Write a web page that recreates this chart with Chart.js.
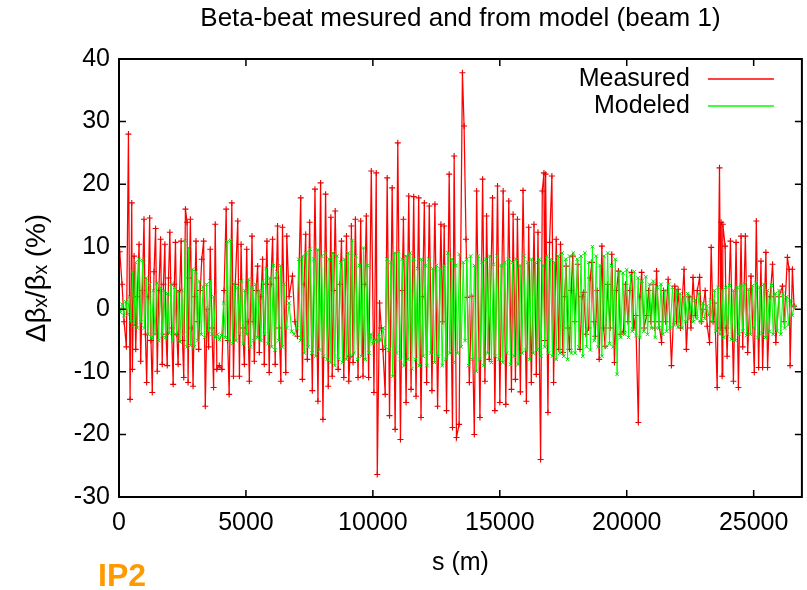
<!DOCTYPE html>
<html>
<head>
<meta charset="utf-8">
<script src="https://cdn.jsdelivr.net/npm/chart.js@4.4.1/dist/chart.umd.min.js"></script>
<style>
html,body{margin:0;padding:0;background:#fff;}
#wrap{position:relative;width:807px;height:590px;}
#ip2{position:absolute;left:98px;top:559px;font-family:"Liberation Sans",Arial,sans-serif;font-weight:bold;font-size:32px;color:#ff9900;line-height:1;}
</style>
</head>
<body>
<div id="wrap">
<canvas id="c" width="807" height="590"></canvas>
<div id="ip2">IP2</div>
</div>
<script>
const chartTitle = 'Beta-beat mesured and from model (beam 1)';
const xAxisTitle = 's (m)';
const yAxisTitle = 'Δβₓ/βₓ (%)';
const seriesNames = ['Measured', 'Modeled'];
const xTickValues = [0, 5000, 10000, 15000, 20000, 25000];
const yTickValues = [-30, -20, -10, 0, 10, 20, 30, 40];

const measuredS = [
30,120,200,290,372,437,502,528,594,659,
720,790,855,920,985,1040,1090,1150,1207,1260,
1311,1380,1442,1507,1570,1638,1703,1750,1807,1850,
1899,1950,2003,2070,2134,2180,2225,2280,2329,2390,
2447,2500,2551,2617,2682,2721,2770,2812,2870,2917,
2980,3034,3090,3138,3200,3260,3334,3399,3470,3530,
3595,3660,3726,3791,3856,3950,4052,4140,4222,4280,
4339,4444,4509,4580,4678,4744,4809,4870,4939,5031,
5080,5135,5239,5290,5331,5400,5461,5527,5590,5657,
5723,5780,5827,5918,5980,6049,6153,6200,6245,6310,
6375,6440,6571,6610,6700,6832,6930,7028,7158,7223,
7290,7354,7419,7510,7615,7719,7837,7941,8033,8137,
8242,8346,8398,8460,8516,8633,8700,8764,8855,8960,
9051,9100,9154,9220,9311,9416,9520,9612,9680,9742,
9833,9938,10042,10133,10173,10264,10330,10395,10486,10564,
10656,10760,10878,10982,11087,11150,11204,11309,11413,11504,
11609,11700,11805,11896,11960,12027,12118,12223,12327,12444,
12549,12680,12750,12810,12901,13006,13136,13202,13293,13397,
13528,13593,13670,13722,13800,13892,13996,14088,14218,14323,
14414,14479,14584,14714,14806,14910,15002,15132,15237,15354,
15459,15524,15616,15694,15811,15916,16047,16138,16243,16347,
16439,16504,16608,16674,16739,16770,16804,16896,16961,17052,
17118,17222,17327,17392,17484,17550,17614,17680,17745,17810,
17875,17950,18071,18162,18240,18302,18400,18498,18560,18629,
18700,18759,18840,18916,19021,19090,19151,19250,19347,19412,
19517,19600,19673,19750,19869,19950,20050,20120,20195,20280,
20352,20457,20520,20587,20680,20783,20860,20950,21050,21100,
21175,21260,21371,21450,21530,21632,21762,21893,21960,22023,
22120,22258,22350,22450,22530,22611,22701,22780,22870,22940,
23001,23090,23171,23262,23327,23400,23458,23563,23654,23700,
23719,23758,23784,23876,23920,23954,24085,24203,24307,24399,
24503,24568,24673,24764,24895,25025,25104,25195,25287,25352,
25482,25548,25650,25743,25874,26000,26135,26200,26330,26395,
26435,26526,26591
];
const measuredPct = [
9.2,4,-2,-6,28,-14.4,17,-9.6,8.5,-6.4,
2,10.4,-8.3,3,14.4,-4,-11.7,2,14.6,-5,
-13.3,6,12.9,-9.9,3,11.2,-8.8,4,10.4,-4,
-9,5,12.3,-3,-12,4,10.7,-4,-8.8,3,
10.9,-5,-10.9,16,13.9,-11.7,5,14.4,-3,-12.3,
2,10.9,-2,-6.4,3,8,10.9,-15.5,0,-6,
9.6,-3,-12.5,13.6,-9.6,-9,-9.6,3,16,-5,
-13.6,17,-10.7,4,14.1,-10.7,10.4,-3,-8.8,9.6,
-2,-11.5,11.7,-2,-8.3,3,6.9,-6.9,2,8,
-8.8,4,10.9,-10.1,4,11.2,-8.8,5,13.3,-3,
-11.5,13.1,-10.1,11.7,2,5.3,-2,-4.3,17.8,-11.2,
4,12,-8,13.9,-13,19.2,-14.7,20.2,-17.6,18.4,
-12.3,14.7,-10.7,3,15.7,-9.6,4,10.9,-10.9,11.7,
-11.5,-7.5,13.3,-8.5,14.4,-10.9,14.1,-10.7,4,14.9,
-10.9,22.1,-13.3,21.8,-26.4,1,-3,-6.4,-13.6,21,
-17,19.4,-19.2,26.6,-20.8,3,14.4,-14.9,18.1,-12.8,
18,-13.9,17.8,-17.3,2,17,-11.7,16.5,-13,16.8,
-15.5,13.6,-2,13.3,-16.2,21.6,-18.9,24.5,-20.5,-18.4,
37.8,29.3,11.2,1.9,-11.7,2.1,-20,18.9,-17.3,20.8,
-11.5,14.9,-8,17.8,-16.2,19.7,-14.9,18.9,-15.2,17.3,
-12.8,15.2,-11.2,14.4,-13.2,19,-14.7,13.1,-11.7,13.6,
-10.4,12.3,-24,18.9,21.8,-5,21.6,-16.5,10.7,21.3,
-11.7,11.2,-6.4,10.4,-6.9,2,6.9,-3,-6.4,3,
8.5,-2,7.2,-6.4,2,2.7,-4,-3,5,7.5,
-2,-4.3,3,-8,10.1,-3,-5.9,4,-3,8.8,
-8.5,3,6.1,-4,-3.5,4,-2,3,5.9,-3,
-1,-18.1,2,5.9,-3,-1,3,-2,4,-3,
6.1,-2,-5.3,3,-2,4.8,-9,3.7,-2,3.2,
-3,6.4,-6.4,2,-3,5.1,-1,3,5.1,-2,
0,3,-2.7,-5.3,9.9,-2,1,-12.5,22.6,-3,
13.9,-10.7,13.6,10.1,-3,-7.5,10.9,-11.5,10.7,-12.5,
11.7,-6,11.7,-6.9,5.3,-10.1,14.1,-9.3,7.7,-9.3,
9.1,-9.3,2,7.2,-5.3,2,3.7,-2,8.3,6.4,
-9,6.4,0.5
];

const modeledS = [
0,60,130,200,270,340,410,470,530,590,
650,720,790,860,930,1000,1070,1140,1210,1280,
1350,1420,1490,1560,1630,1700,1770,1840,1910,1980,
2050,2120,2190,2260,2330,2400,2470,2540,2610,2680,
2750,2820,2890,2960,3030,3100,3170,3240,3310,3380,
3450,3520,3590,3660,3730,3800,3880,3960,4040,4120,
4190,4260,4330,4400,4470,4540,4610,4680,4750,4820,
4890,4960,5030,5100,5170,5240,5310,5380,5450,5520,
5590,5660,5730,5800,5870,5940,6010,6080,6150,6220,
6290,6360,6430,6500,6600,6700,6800,6900,7000,7080,
7150,7230,7300,7380,7450,7530,7600,7680,7750,7830,
7900,7980,8050,8130,8200,8280,8350,8430,8500,8580,
8650,8730,8800,8880,8950,9030,9100,9180,9250,9330,
9400,9480,9550,9630,9700,9780,9850,9920,10000,10080,
10160,10240,10320,10400,10480,10560,10630,10710,10780,10860,
10930,11010,11080,11160,11230,11310,11380,11460,11530,11610,
11680,11760,11830,11910,11980,12060,12130,12210,12280,12360,
12430,12510,12580,12660,12730,12810,12880,12960,13030,13110,
13180,13260,13330,13410,13480,13560,13630,13700,13770,13850,
13920,14000,14070,14150,14220,14300,14370,14450,14520,14600,
14670,14750,14820,14900,14970,15050,15120,15200,15270,15350,
15420,15500,15570,15650,15720,15800,15870,15950,16020,16100,
16170,16250,16320,16400,16470,16550,16620,16700,16770,16850,
16920,17000,17070,17150,17220,17300,17370,17450,17520,17600,
17670,17750,17820,17900,17970,18050,18120,18200,18270,18350,
18420,18500,18570,18650,18720,18800,18870,18950,19020,19100,
19170,19250,19320,19400,19470,19550,19620,19700,19770,19850,
19920,20000,20070,20150,20220,20300,20370,20450,20520,20600,
20670,20750,20820,20900,20970,21050,21120,21200,21270,21350,
21420,21500,21570,21650,21720,21800,21870,21950,22020,22100,
22170,22250,22320,22400,22470,22550,22620,22700,22770,22850,
22920,23000,23070,23150,23220,23300,23370,23450,23520,23600,
23670,23750,23820,23900,23970,24050,24120,24200,24270,24350,
24420,24500,24570,24650,24720,24800,24870,24950,25020,25100,
25170,25250,25320,25400,25470,25550,25620,25700,25770,25850,
25920,26000,26070,26150,26220,26300,26370,26450,26520,26600
];
const modeledPct = [
0,-0.5,0.8,-1,1.2,-0.8,2,-2,6,-2.5,
7.5,-3,8,-2,7.8,-3,5,-4,4,-4.5,
3,-4,4.2,-5,3.5,-4.2,3,-4.5,2.5,-3.8,
4,-5,3.5,-4,2.8,-5.2,3,-4,11,-6,
9.8,-5.8,6.4,-6,6,-5,4.5,-4,3.6,-4.5,
4,-3.5,4.5,-4,2,-4.5,-4,-4.8,-4.2,1,
-4.5,10.8,-5,11,-5.5,4,-5,3.5,-4,4.5,
-5.5,3,-4,4.8,-6,3.5,-5,4,-4.5,3,
-5,4.5,-4,6.5,-5.5,5,-6,7,-6.5,6,
-5,7,-6,4,-3,1,-3.5,-4,-3,8,
-5,8.5,-7,9,-6,9.6,-7,8,-7.5,9.5,
-6.5,8.5,-7.5,9,-8,8,-8.5,9,-9,8.5,
-8,7.5,-8.5,8,-8,9,-7.5,11,-7,8.5,
-8,7,-7.5,9.8,-8,7,-7,-4,-5.5,-4.8,
-5.2,-4,-5,-3,-6,8,-6.5,7.5,-10.7,9,
-7,9.2,-8,8,-9,8.5,-8,9,-9.5,8,
-8,6.5,-9,8,-7.5,7,-9,8,-7,6.5,
-8.5,7,-7.5,6.4,-9,7,-8,9,-7,8,
-8.5,7,-7,8.8,-6,7.5,-5,8,-9,8.5,
-8,7,-9.9,8.5,-8,7.5,-9,8,-7,8.5,
-8.5,7.2,-7.5,8.5,-8,7,-8.5,7.5,-7,8,
-8.8,7.5,-7.5,8,-8.8,7,-7,8.5,-6.5,7.5,
-8,8,-7,7.5,-6.5,8,-7.5,7,-6,8.5,
-7,8,-7.5,7.5,-8,8.5,-7,9,-7.5,8,
-8,8.5,-7,9,-7,8,-6,8.5,-7.5,9,
-6,7.5,-6.5,10,-5,8.5,-6,7,-7.5,8.5,
-6,9,-5.5,7,-6,8,-10.4,6,-4.5,5.8,
-4,6.3,-4.5,5.5,-3.5,6,-4.2,5,-4.5,4.5,
-3.5,5.2,-4,4,-3,4.5,-4.5,3.5,-3,4,
-4,3,-3.5,4,-3,3.5,-2.5,3,-2.8,2.5,
-3,2,-2,2.5,-1.5,2,-2,1.5,-1.5,2.5,
-2,1,-1.5,0.5,-1,1.5,-2,3,-3.5,3.5,
-4,3,-4.5,3.5,-4,3.8,-4.8,3,-5,3.5,
-4,3.8,-3.5,4,-4.2,3.2,-4,3.8,-3,4.2,
-4.5,3.5,-3.8,4,-4.5,3,-3.5,3.8,-4,2.5,
-3.5,3,-4,2.5,-3,2,-2.5,1.5,-1,0.5
];

const RED = 'rgb(255,0,0)';
const GREEN = 'rgb(0,255,0)';
const FONT = '"Liberation Sans", Arial, Helvetica, sans-serif';

const toPoints = (xs, ys) => xs.map((s, i) => ({x: s, y: ys[i]}));

const framePlugin = {
  id: 'frame',
  afterDraw(chart) {
    const {ctx, chartArea: a, scales} = chart;
    const xs = scales.x, ys = scales.y;
    ctx.save();
    // title centred over the plot area
    ctx.fillStyle = '#000';
    ctx.font = '26px ' + FONT;
    ctx.textAlign = 'center';
    ctx.textBaseline = 'middle';
    ctx.fillText(chartTitle, (a.left + a.right) / 2, 19);

    ctx.strokeStyle = '#000';
    ctx.lineWidth = 1.5;
    ctx.beginPath();
    xTickValues.forEach(v => {
      const p = xs.getPixelForValue(v);
      ctx.moveTo(p, a.bottom); ctx.lineTo(p, a.bottom - 7);
      ctx.moveTo(p, a.top); ctx.lineTo(p, a.top + 7);
    });
    yTickValues.forEach(v => {
      const p = ys.getPixelForValue(v);
      ctx.moveTo(a.left, p); ctx.lineTo(a.left + 7, p);
      ctx.moveTo(a.right, p); ctx.lineTo(a.right - 7, p);
    });
    ctx.stroke();
    ctx.lineWidth = 2;
    ctx.strokeRect(a.left, a.top, a.right - a.left, a.bottom - a.top);

    // key (legend) inside the plot, gnuplot style
    const ds = chart.data.datasets;
    const order = [1, 0];
    ctx.font = '25px ' + FONT;
    ctx.textAlign = 'right';
    ctx.textBaseline = 'middle';
    order.forEach((di, row) => {
      const d = ds[di];
      const yy = a.top + 20 + row * 27;
      ctx.fillStyle = '#000';
      ctx.fillText(d.label, a.right - 112, yy);
      ctx.strokeStyle = d.borderColor;
      ctx.lineWidth = 1.5;
      ctx.beginPath();
      ctx.moveTo(a.right - 94, yy); ctx.lineTo(a.right - 28, yy);
      ctx.stroke();
      Chart.helpers.drawPoint(ctx, {pointStyle: d.pointStyle, rotation: 0, borderWidth: 1}, a.right - 61, yy);
    });
    ctx.restore();
  }
};

new Chart(document.getElementById('c'), {
  type: 'line',
  data: {
    datasets: [
      {
        label: seriesNames[1],
        data: toPoints(modeledS, modeledPct),
        borderColor: GREEN,
        backgroundColor: GREEN,
        borderWidth: 1,
        pointStyle: 'crossRot',
        pointRadius: 2.5,
        pointBorderWidth: 1,
        pointBorderColor: 'rgb(0,220,0)',
        tension: 0,
        fill: false
      },
      {
        label: seriesNames[0],
        data: toPoints(measuredS, measuredPct),
        borderColor: RED,
        backgroundColor: RED,
        borderWidth: 1.25,
        pointStyle: 'cross',
        pointRadius: 3,
        pointBorderWidth: 1.1,
        pointBorderColor: 'rgb(230,0,0)',
        tension: 0,
        fill: false
      }
    ]
  },
  options: {
    responsive: false,
    animation: false,
    devicePixelRatio: 1,
    layout: {padding: {left: 0, right: 0, top: 59, bottom: 0}},
    plugins: {
      legend: {display: false},
      tooltip: {enabled: false},
      title: {display: false}
    },
    scales: {
      x: {
        type: 'linear',
        min: 0,
        max: 26900,
        afterBuildTicks: s => { s.ticks = xTickValues.map(v => ({value: v})); },
        afterFit: s => { s.height = 93; s.paddingRight = 0; s.paddingLeft = 0; },
        grid: {display: false, drawTicks: false},
        border: {display: false},
        ticks: {color: '#000', font: {family: FONT, size: 25}, padding: 11, maxRotation: 0, autoSkip: false, callback: v => String(v)},
        title: {display: true, text: xAxisTitle, color: '#000', font: {family: FONT, size: 25, lineHeight: 1.2}, padding: {top: 4, bottom: 12}}
      },
      y: {
        type: 'linear',
        min: -30,
        max: 40,
        afterBuildTicks: s => { s.ticks = yTickValues.map(v => ({value: v})); },
        afterFit: s => { s.width = 119; },
        grid: {display: false, drawTicks: false},
        border: {display: false},
        ticks: {color: '#000', font: {family: FONT, size: 25}, padding: 9, autoSkip: false, callback: v => String(v)},
        title: {display: true, text: yAxisTitle, color: '#000', font: {family: FONT, size: 28, lineHeight: 1.2}, padding: {top: 20, bottom: 4}}
      }
    }
  },
  plugins: [framePlugin]
});
</script>
</body>
</html>
